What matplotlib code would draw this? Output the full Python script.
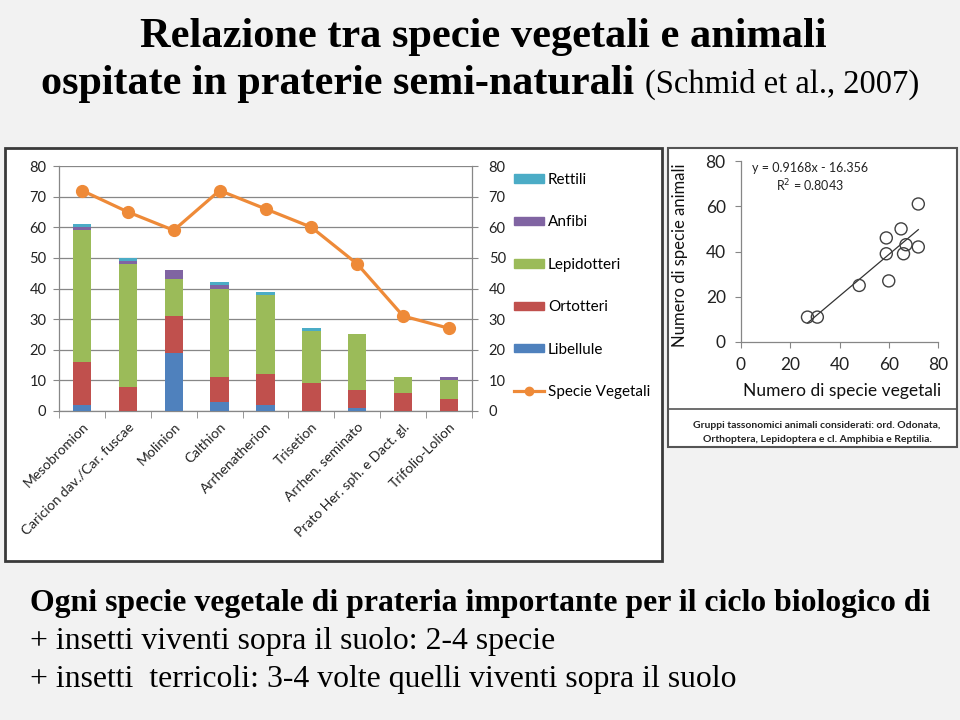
import matplotlib
matplotlib.use("Agg")
import matplotlib.pyplot as plt
from matplotlib.patches import Rectangle, Patch
from matplotlib.lines import Line2D
import numpy as np

# ---------------- data ----------------
categories = ['Mesobromion', 'Caricion dav./Car. fuscae', 'Molinion', 'Calthion',
              'Arrhenatherion', 'Trisetion', 'Arrhen. seminato',
              'Prato Her. sph. e Dact. gl.', 'Trifolio-Lolion']
libellule = [2, 0, 19, 3, 2, 0, 1, 0, 0]
ortotteri = [14, 8, 12, 8, 10, 9, 6, 6, 4]
lepidotteri = [43, 40, 12, 29, 26, 17, 18, 5, 6]
anfibi = [1, 1, 3, 1, 0, 0, 0, 0, 1]
rettili = [1, 1, 0, 1, 1, 1, 0, 0, 0]
specie_vegetali = [72, 65, 59, 72, 66, 60, 48, 31, 27]

scatter_x = [27, 31, 48, 59, 59, 60, 65, 66, 67, 72, 72]
scatter_y = [11, 11, 25, 46, 39, 27, 50, 39, 43, 42, 61]
slope, intercept = 0.9168, -16.356
r2 = 0.8043

W, H = 960, 720
fig = plt.figure(figsize=(W / 100, H / 100), dpi=100)
fig.patch.set_facecolor('#f2f2f2')


def fx(px):
    return px / W


def fy(py):
    return 1 - py / H


def box(x0, y0, x1, y1):
    return [fx(x0), fy(y1), fx(x1) - fx(x0), fy(y0) - fy(y1)]


# ---------------- panels ----------------
fig.patches.append(Rectangle((fx(5), fy(561)), fx(662) - fx(5), fy(148) - fy(561),
                             transform=fig.transFigure, facecolor='white',
                             edgecolor='#3a3a3a', lw=2, zorder=-10))
fig.patches.append(Rectangle((fx(668), fy(447)), fx(957) - fx(668), fy(148) - fy(447),
                             transform=fig.transFigure, facecolor='white',
                             edgecolor='#555555', lw=1.5, zorder=-10))
fig.lines.append(Line2D([fx(668), fx(957)], [fy(409), fy(409)],
                        transform=fig.transFigure, color='#555555', lw=1.2, zorder=-5))

chart_font = ['Lato', 'DejaVu Sans']
serif = ['Liberation Serif', 'DejaVu Serif']

# ---------------- titles ----------------
fig.text(fx(483), fy(37), 'Relazione tra specie vegetali e animali', family=serif,
         fontweight='bold', fontsize=30.5, ha='center', va='center', color='black')

renderer = fig.canvas.get_renderer()
t1 = fig.text(0, fy(84), 'ospitate in praterie semi-naturali ', family=serif,
              fontweight='bold', fontsize=30.3, ha='left', va='center', color='black')
t2 = fig.text(0, fy(84), '(Schmid et al., 2007)', family=serif,
              fontsize=23.5, ha='left', va='center', color='black')
w1 = t1.get_window_extent(renderer).width
w2 = t2.get_window_extent(renderer).width
start = 480 - (w1 + w2) / 2
t1.set_x(fx(start))
t2.set_x(fx(start + w1))

fig.text(fx(30), fy(603), 'Ogni specie vegetale di prateria importante per il ciclo biologico di',
         family=serif, fontweight='bold', fontsize=22.9, ha='left', va='center')
fig.text(fx(30), fy(641), '+ insetti viventi sopra il suolo: 2-4 specie',
         family=serif, fontsize=22.9, ha='left', va='center')
fig.text(fx(30), fy(680), '+ insetti  terricoli: 3-4 volte quelli viventi sopra il suolo',
         family=serif, fontsize=22.9, ha='left', va='center')

# ---------------- stacked bar chart ----------------
colors = {'Libellule': '#4F81BD', 'Ortotteri': '#C0504D', 'Lepidotteri': '#9BBB59',
          'Anfibi': '#8064A2', 'Rettili': '#4BACC6'}
line_color = '#EE8A38'
grid_color = '#878787'

ax = fig.add_axes(box(59, 166, 472, 411))
ax.set_facecolor('none')
x = np.arange(len(categories))
bottom = np.zeros(len(categories))
series = [('Libellule', libellule), ('Ortotteri', ortotteri), ('Lepidotteri', lepidotteri),
          ('Anfibi', anfibi), ('Rettili', rettili)]
for name, vals in series:
    ax.bar(x, vals, 0.4, bottom=bottom, color=colors[name], zorder=3, linewidth=0)
    bottom += np.array(vals)

ax.set_xlim(-0.5, len(categories) - 0.5)
ax.set_ylim(0, 80)
ax.set_yticks(np.arange(0, 81, 10))
ax.yaxis.grid(True, color=grid_color, lw=0.9, zorder=0)
ax.set_axisbelow(True)
for s in ['top', 'right']:
    ax.spines[s].set_visible(False)
for s in ['left', 'bottom']:
    ax.spines[s].set_color(grid_color)
    ax.spines[s].set_linewidth(0.9)
ax.tick_params(axis='y', direction='out', length=4, color=grid_color, pad=5,
               labelsize=10.5, labelcolor='#222222')
for lbl in ax.get_yticklabels():
    lbl.set_family(chart_font)
ax.set_xticks(x)
ax.set_xticklabels(categories, rotation=45, ha='right', rotation_mode='anchor',
                   family=chart_font, fontsize=10, color='#222222')
ax.tick_params(axis='x', which='major', length=0, pad=7)
ax.set_xticks(np.arange(-0.5, len(categories), 1), minor=True)
ax.tick_params(axis='x', which='minor', direction='out', length=5, color=grid_color)

ax2 = ax.twinx()
ax2.set_ylim(0, 80)
ax2.set_yticks(np.arange(0, 81, 10))
ax2.plot(x, specie_vegetali, color=line_color, lw=2.3, marker='o', markersize=8.5,
         zorder=5)
for s in ['top', 'left', 'bottom']:
    ax2.spines[s].set_visible(False)
ax2.spines['right'].set_color(grid_color)
ax2.spines['right'].set_linewidth(0.9)
ax2.tick_params(axis='y', direction='out', length=4, color=grid_color, pad=8,
                labelsize=10.5, labelcolor='#222222')
for lbl in ax2.get_yticklabels():
    lbl.set_family(chart_font)

handles = [Patch(color=colors['Rettili'], label='Rettili'),
           Patch(color=colors['Anfibi'], label='Anfibi'),
           Patch(color=colors['Lepidotteri'], label='Lepidotteri'),
           Patch(color=colors['Ortotteri'], label='Ortotteri'),
           Patch(color=colors['Libellule'], label='Libellule'),
           Line2D([0], [0], color=line_color, lw=2.3, marker='o', markersize=6,
                  label='Specie Vegetali')]
fig.legend(handles=handles, loc='upper left', bbox_to_anchor=(fx(514), fy(173)),
           frameon=False, borderpad=0, borderaxespad=0, labelspacing=1.86,
           handlelength=1.96, handleheight=0.46, handletextpad=0.25,
           prop={'family': chart_font, 'size': 11})

# ---------------- scatter ----------------
axs = fig.add_axes(box(741, 161, 938, 342))
axs.set_facecolor('none')
axs.scatter(scatter_x, scatter_y, s=75, facecolors='none', edgecolors='#404040',
            linewidths=1.0, zorder=3)
xs = np.array([min(scatter_x), max(scatter_x)])
axs.plot(xs, slope * xs + intercept, color='#333333', lw=0.9, zorder=2)
axs.set_xlim(0, 80)
axs.set_ylim(0, 80)
axs.set_xticks(np.arange(0, 81, 20))
axs.set_yticks(np.arange(0, 81, 20))
for s in ['top', 'right']:
    axs.spines[s].set_visible(False)
for s in ['left', 'bottom']:
    axs.spines[s].set_color('#868686')
    axs.spines[s].set_linewidth(0.9)
axs.tick_params(axis='both', direction='out', length=4, color='#868686', pad=7,
                labelsize=12.5, labelcolor='#222222')
for lbl in axs.get_xticklabels() + axs.get_yticklabels():
    lbl.set_family(chart_font)

fig.text(fx(680), fy(255), 'Numero di specie animali', rotation=90, ha='center',
         va='center', family=chart_font, fontsize=12, color='#111111')
fig.text(fx(842), fy(391), 'Numero di specie vegetali', ha='center', va='center',
         family=chart_font, fontsize=12.5, color='#111111')
fig.text(fx(810), fy(168), 'y = 0.9168x - 16.356', ha='center', va='center',
         family=chart_font, fontsize=9, color='#222222')
fig.text(fx(810), fy(186), 'R$^2$ = 0.8043', ha='center', va='center',
         family=chart_font, fontsize=9, color='#222222')
fig.text(fx(817), fy(425), 'Gruppi tassonomici animali considerati: ord. Odonata,',
         ha='center', va='center', family=chart_font, fontsize=7.5, fontweight='bold',
         color='#222222')
fig.text(fx(817), fy(439), 'Orthoptera, Lepidoptera e cl. Amphibia e Reptilia.',
         ha='center', va='center', family=chart_font, fontsize=7.5, fontweight='bold',
         color='#222222')

fig.savefig('out.png', dpi=100, facecolor=fig.get_facecolor())
